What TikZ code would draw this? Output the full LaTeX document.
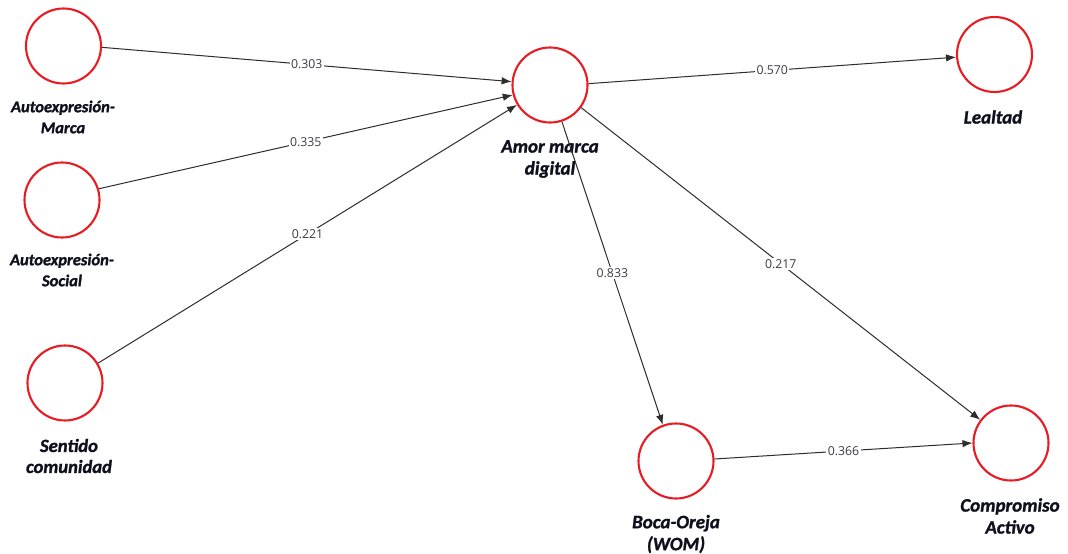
\documentclass[tikz,border=0pt]{standalone}
\usepackage{fontspec}
\setmainfont{Carlito}[BoldItalicFeatures={FakeBold=1.3}]
\newfontfamily\coeffont{Open Sans}
\usetikzlibrary{arrows.meta}
\definecolor{lvred}{RGB}{232,28,36}
\definecolor{pathgray}{RGB}{45,45,45}
\definecolor{coefgray}{RGB}{60,60,70}
\definecolor{nameink}{RGB}{15,15,30}
\begin{document}
\begin{tikzpicture}[x=1pt,y=-1pt,
  latent/.style={circle,draw=lvred,line width=2.1pt,minimum size=75pt,inner sep=0pt,fill=white},
  lvname/.style={font=\fontsize{19}{22}\selectfont\bfseries\itshape,text=nameink,align=center,inner sep=0pt},
  lvsmall/.style={lvname,font=\fontsize{16.5}{21}\selectfont\bfseries\itshape},
  pathline/.style={draw=pathgray,line width=1pt,-{Latex[length=10pt,width=7.5pt]}},
  coef/.style={fill=white,inner sep=1.5pt,text=coefgray,font=\coeffont\fontsize{12.3}{14}\selectfont}]
  \useasboundingbox[fill=white] (0,0) rectangle (1068,554);

  % latent variables
  \node[latent] (marca)  at (63.5,46)  {};
  \node[latent] (social) at (62,200)   {};
  \node[latent] (comun)  at (65,383)   {};
  \node[latent] (amor)   at (550,85)   {};
  \node[latent] (leal)   at (994.5,54.5) {};
  \node[latent] (wom)    at (676,461)  {};
  \node[latent] (comp)   at (1011,443) {};

  % construct names
  \node[lvsmall] (marcaT)  at (63,117)  {Autoexpresión-\\Marca};
  \node[lvsmall] (socialT) at (62,270)  {Autoexpresión-\\Social};
  \node[lvname,font=\fontsize{18.6}{21}\selectfont\bfseries\itshape] (comunT) at (69,456) {Sentido\\comunidad};
  \node[lvname] (amorT) at (550,159) {Amor marca\\digital};
  \node[lvname] (lealT) at (993,117) {Lealtad};
  \node[lvname] (womT)  at (676,534) {Boca-Oreja\\(WOM)};
  \node[lvname] (compT) at (1010,516) {Compromiso\\Activo};

  % structural paths with coefficients
  \draw[pathline] (marca.-2)  -- node[coef] {0.303} (amor.175);
  \draw[pathline] (social.17) -- node[coef] {0.335} (amor.195);
  \draw[pathline] (comun.31)  -- node[coef] {0.221} (amor.211);
  \draw[pathline] (amor.2)    -- node[coef] {0.570} (leal.184);
  \draw[pathline] (amor.-72)  -- node[coef] {0.833} (wom.110);
  \draw[pathline] (amor.-36)  -- node[coef] {0.217} (comp.143);
  \draw[pathline] (wom.3)     -- node[coef] {0.366} (comp.180);
\end{tikzpicture}
\end{document}
